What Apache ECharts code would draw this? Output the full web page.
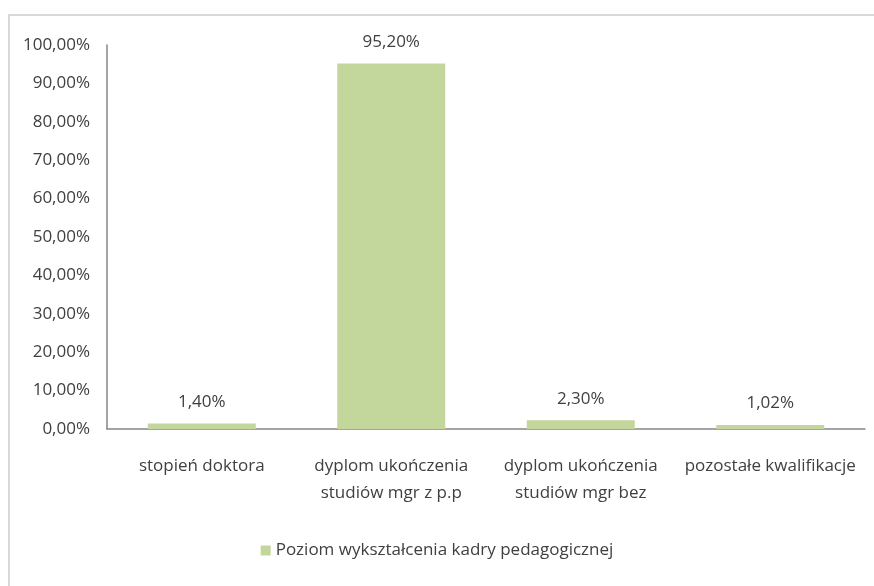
<!DOCTYPE html>
<html>
<head>
<meta charset="utf-8">
<script src="https://cdn.jsdelivr.net/npm/echarts@6/dist/echarts.min.js"></script>
<style>
  html, body { margin: 0; padding: 0; background: #fff; }
  .frame {
    position: absolute; left: 8px; top: 14px; width: 900px; height: 600px;
    border-top: 2px solid #d9d9d9; border-left: 2px solid #d9d9d9;
  }
  #chart { position: absolute; left: 0; top: 0; width: 874px; height: 586px; }
</style>
</head>
<body>
<div class="frame"></div>
<div id="chart"></div>
<script>
  // dane wykresu
  var categories = ["stopień doktora", "dyplom ukończenia\nstudiów mgr z p.p", "dyplom ukończenia\nstudiów mgr bez", "pozostałe kwalifikacje"];
  var values = [1.40, 95.20, 2.30, 1.02];
  var seriesName = "Poziom wykształcenia kadry pedagogicznej";

  var font = "'Open Sans', sans-serif";
  function pct(v) {
    return v.toFixed(2).replace(".", ",") + "%";
  }

  var myChart = echarts.init(document.getElementById("chart"));
  myChart.setOption({
    animation: false,
    textStyle: { fontFamily: font },
    legend: {
      data: [{ name: seriesName, icon: "rect" }],
      bottom: 22,
      left: "center",
      itemWidth: 10,
      itemHeight: 10,
      itemGap: 6,
      textStyle: { color: "#404040", fontSize: 17, fontFamily: font }
    },
    grid: { left: 107, right: 9, top: 45, bottom: 157 },
    xAxis: {
      type: "category",
      data: categories,
      axisTick: { show: false },
      axisLine: { lineStyle: { color: "#868686", width: 1.5 } },
      axisLabel: {
        color: "#404040",
        fontSize: 17,
        margin: 24,
        lineHeight: 27,
        interval: 0,
        fontFamily: font
      }
    },
    yAxis: {
      type: "value",
      min: 0,
      max: 100,
      interval: 10,
      splitLine: { show: false },
      axisLine: { show: true, lineStyle: { color: "#868686", width: 1.5 } },
      axisTick: { show: false },
      axisLabel: {
        color: "#404040",
        fontSize: 17,
        margin: 17,
        fontFamily: font,
        formatter: function (v) { return pct(v); }
      }
    },
    series: [
      {
        name: seriesName,
        type: "bar",
        data: values,
        barWidth: 108,
        itemStyle: { color: "#c3d69b" },
        label: {
          show: true,
          position: "top",
          distance: 13,
          color: "#404040",
          fontSize: 17,
          fontFamily: font,
          formatter: function (p) { return pct(p.value); }
        }
      }
    ]
  });
</script>
</body>
</html>
